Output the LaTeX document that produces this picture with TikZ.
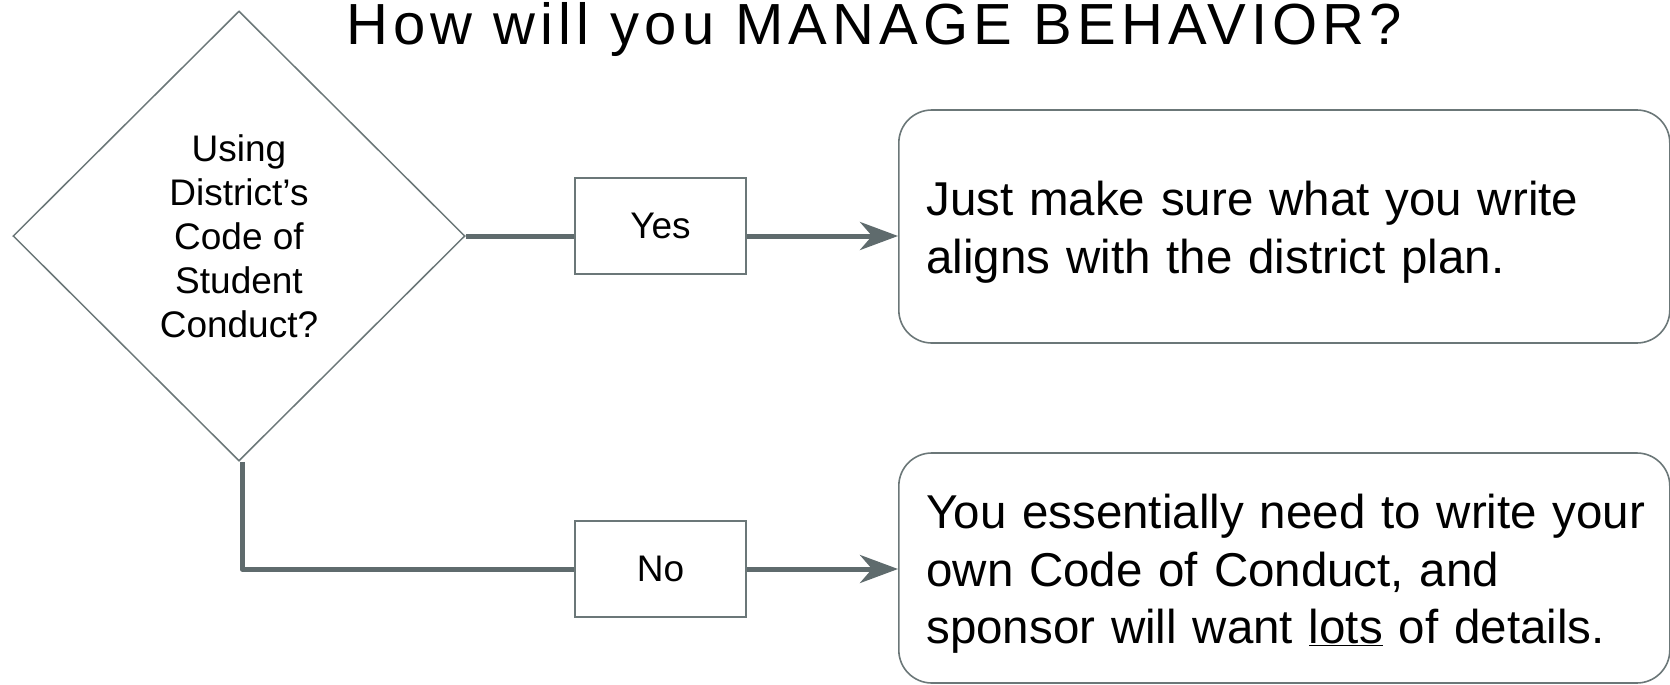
\documentclass[tikz,border=0pt]{standalone}
\usepackage{fontspec}
\setmainfont{Liberation Sans}
\usetikzlibrary{arrows.meta,shapes.geometric}
\definecolor{flowline}{HTML}{5F6B6D}
\definecolor{flowedge}{HTML}{6B7778}
\newcommand{\toppad}{\rule{0pt}{46pt}}
\tikzset{
  decision/.style={diamond, draw=flowedge, line width=1.5pt, minimum width=452pt, minimum height=450pt, inner sep=0pt, align=center, font=\fontsize{37}{44}\selectfont},
  answer/.style={rectangle, draw=flowedge, line width=1.6pt, minimum width=171pt, minimum height=96pt, inner sep=0pt, font=\fontsize{37}{44}\selectfont},
  advice/.style={rectangle, rounded corners=33pt, draw=flowedge, line width=1.6pt, text width=716pt, inner xsep=27.5pt, inner ysep=0pt, align=left, anchor=west, font=\fontsize{47.5}{57.5}\selectfont},
  flow/.style={draw=flowline, line width=5pt, line join=round},
  flowarrow/.style={flow, -{Stealth[length=38pt, width=28pt, inset=12pt]}},
  heading/.style={anchor=base west, inner sep=0pt, font=\fontsize{58}{62}\selectfont\addfontfeature{LetterSpace=8.8}}
}

\begin{document}
\begin{tikzpicture}[x=1pt, y=-1pt]
  %%%%% START %%%%%
  \useasboundingbox (0,0) rectangle (1670,685);
  \clip (0,0) rectangle (1670,685);

  \node[heading] (title) at (346,45) {How will you MANAGE BEHAVIOR?};

  \node[decision] (dec) at (239,236) {Using\\District’s\\Code of\\Student\\Conduct?};

  \node[answer] (yes) at (660.5,226) {Yes};
  \node[answer] (no) at (660.5,569) {No};

  \node[advice, minimum height=233pt] (just) at (898,226.5)
    {\toppad Just make sure what you write\\aligns with the district plan.};
  \node[advice, minimum height=230pt] (own) at (898,568)
    {\toppad\mbox{You essentially need to write your}\\own Code of Conduct, and\\sponsor will want \underline{lots} of details.};

  % yes branch
  \draw[flow] (dec.east) -- (dec.east -| yes.west);
  \draw[flowarrow] (yes.east |- dec.east) -- (dec.east -| just.west);

  % no branch
  \draw[flow] ([xshift=3pt]dec.south) |- (no.west);
  \draw[flowarrow] (no.east) -- (no.east -| own.west);
  %%%%% END %%%%%
\end{tikzpicture}
\end{document}
